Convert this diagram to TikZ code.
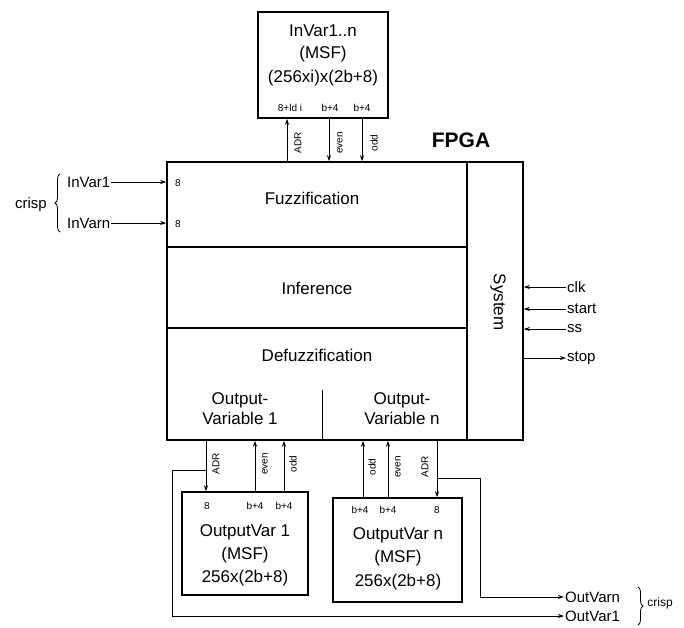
\documentclass[tikz,border=0pt]{standalone}
\usepackage{fontspec}
\setmainfont{Liberation Sans}
\usetikzlibrary{arrows.meta,decorations.pathreplacing}
\tikzset{
  box/.style={draw,line width=1.5pt,inner sep=0pt,minimum width=#1},
  big/.style={font=\fontsize{17}{20}\selectfont,inner sep=1pt},
  mid/.style={font=\fontsize{15}{18}\selectfont,inner sep=1pt},
  sm/.style={font=\fontsize{10}{11}\selectfont,inner sep=1pt},
  rot/.style={sm,rotate=90},
  conn/.style={line width=0.9pt},
  arr/.style={conn,-{Stealth[length=6pt,width=4pt]}},
  brc/.style={decorate,decoration={brace,amplitude=5pt},line width=0.8pt}
}
\begin{document}
\begin{tikzpicture}[x=1pt,y=-1pt]
\useasboundingbox (0,0) rectangle (684,627);
% FPGA blocks
\node[box=300pt,minimum height=85pt] (fuzz) at (317,204.5) {};
\node[box=300pt,minimum height=81pt] (inf) at (317,287.5) {};
\node[box=300pt,minimum height=112pt] (defuzz) at (317,384) {};
\node[box=56pt,minimum height=278pt] (sys) at (495,301) {};
\node[big] (tfuzz) at (312,198) {Fuzzification};
\node[big] (tinf) at (317,288) {Inference};
\node[big] (tdef) at (317,355) {Defuzzification};
\node[big,align=center] (tov1) at (240,409) {Output-\\Variable 1};
\node[big,align=center] (tovn) at (402,409) {Output-\\Variable n};
\coordinate (dv1) at (322,390);
\draw[conn,line width=1pt] (dv1) -- (dv1 |- defuzz.south);
\node[big,rotate=-90] (tsys) at (498,302) {System};
\node[font=\fontsize{21}{24}\selectfont\bfseries] (fpga) at (461,140) {FPGA};
% input memory
\node[box=130pt,minimum height=106pt] (mem) at (323,65) {};
\node[big] (m1) at (323,31) {InVar1..n};
\node[big] (m2) at (323,54) {(MSF)};
\node[big] (m3) at (323,78) {(256xi)x(2b+8)};
\node[sm] (ml1) at (290,108) {8+ld i};
\node[sm] (ml2) at (330,108) {b+4};
\node[sm] (ml3) at (362,108) {b+4};
\coordinate (xat) at (287,0);
\coordinate (xet) at (329,0);
\coordinate (xot) at (362,0);
\draw[arr] (xat |- fuzz.north) -- (xat |- mem.south);
\draw[arr] (xet |- mem.south) -- (xet |- fuzz.north);
\draw[arr] (xot |- mem.south) -- (xot |- fuzz.north);
\node[rot] (lat) at (298,143) {ADR};
\node[rot] (let) at (340,143) {even};
\node[rot] (lot) at (374,143) {odd};
% inputs
\node[mid,anchor=west] (in1) at (66,182) {InVar1};
\node[mid,anchor=west] (inn) at (66,223) {InVarn};
\draw[arr] (in1.east) -- (in1.east -| fuzz.west);
\draw[arr] (inn.east) -- (inn.east -| fuzz.west);
\node[sm] (e1) at (178,183) {8};
\node[sm] (e2) at (178,224) {8};
\draw[brc] (60,232) -- (60,174);
\node[mid] (crisp1) at (31,205) {crisp};
% system signals
\node[mid,anchor=west] (clk) at (566,287) {clk};
\node[mid,anchor=west] (start) at (566,309) {start};
\node[mid,anchor=west] (ss) at (566,329) {ss};
\node[mid,anchor=west] (stop) at (566,358) {stop};
\draw[arr] (clk.west) -- (clk.west -| sys.east);
\draw[arr] (start.west) -- (start.west -| sys.east);
\draw[arr] (ss.west) -- (ss.west -| sys.east);
\draw[arr] (stop.west -| sys.east) -- (stop.west);
% output memory 1
\node[box=126pt,minimum height=103pt] (om1) at (245,543.5) {};
\node[big] (o11) at (245,532) {OutputVar 1};
\node[big] (o12) at (245,555) {(MSF)};
\node[big] (o13) at (245,578) {256x(2b+8)};
\node[sm] (o1l1) at (207,506) {8};
\node[sm] (o1l2) at (255,506) {b+4};
\node[sm] (o1l3) at (284,506) {b+4};
\coordinate (xa1) at (206,0);
\coordinate (xe1) at (255,0);
\coordinate (xo1) at (284,0);
\draw[arr] (xa1 |- defuzz.south) -- (xa1 |- om1.north);
\draw[arr] (xe1 |- om1.north) -- (xe1 |- defuzz.south);
\draw[arr] (xo1 |- om1.north) -- (xo1 |- defuzz.south);
\node[rot] (la1) at (216,464) {ADR};
\node[rot] (le1) at (265,464) {even};
\node[rot] (lo1) at (293,464) {odd};
% output memory n
\node[box=129pt,minimum height=104pt] (omn) at (397.5,550) {};
\node[big] (on1) at (398,535) {OutputVar n};
\node[big] (on2) at (398,558) {(MSF)};
\node[big] (on3) at (398,582) {256x(2b+8)};
\node[sm] (onl1) at (360,510) {b+4};
\node[sm] (onl2) at (388,510) {b+4};
\node[sm] (onl3) at (437,510) {8};
\coordinate (xon) at (363,0);
\coordinate (xen) at (388,0);
\coordinate (xan) at (437,0);
\draw[arr] (xon |- omn.north) -- (xon |- defuzz.south);
\draw[arr] (xen |- omn.north) -- (xen |- defuzz.south);
\draw[arr] (xan |- defuzz.south) -- (xan |- omn.north);
\node[rot] (lon) at (372,467) {odd};
\node[rot] (len) at (398,467) {even};
\node[rot] (lan) at (425,467) {ADR};
% crisp outputs
\node[mid,anchor=west] (outn) at (564,597) {OutVarn};
\node[mid,anchor=west] (out1) at (564,616) {OutVar1};
\coordinate (b1) at (206,470);
\coordinate (c1a) at (172,470);
\coordinate (c1b) at (172,616);
\draw[arr] (b1) -- (c1a) -- (c1b) -- (out1.west);
\coordinate (bn) at (437,478);
\coordinate (cna) at (480,478);
\coordinate (cnb) at (480,597);
\draw[arr] (bn) -- (cna) -- (cnb) -- (outn.west);
\draw[brc] (638,587) -- (638,625);
\node[font=\fontsize{12}{14}\selectfont] (crisp2) at (660,603) {crisp};
\end{tikzpicture}
\end{document}
